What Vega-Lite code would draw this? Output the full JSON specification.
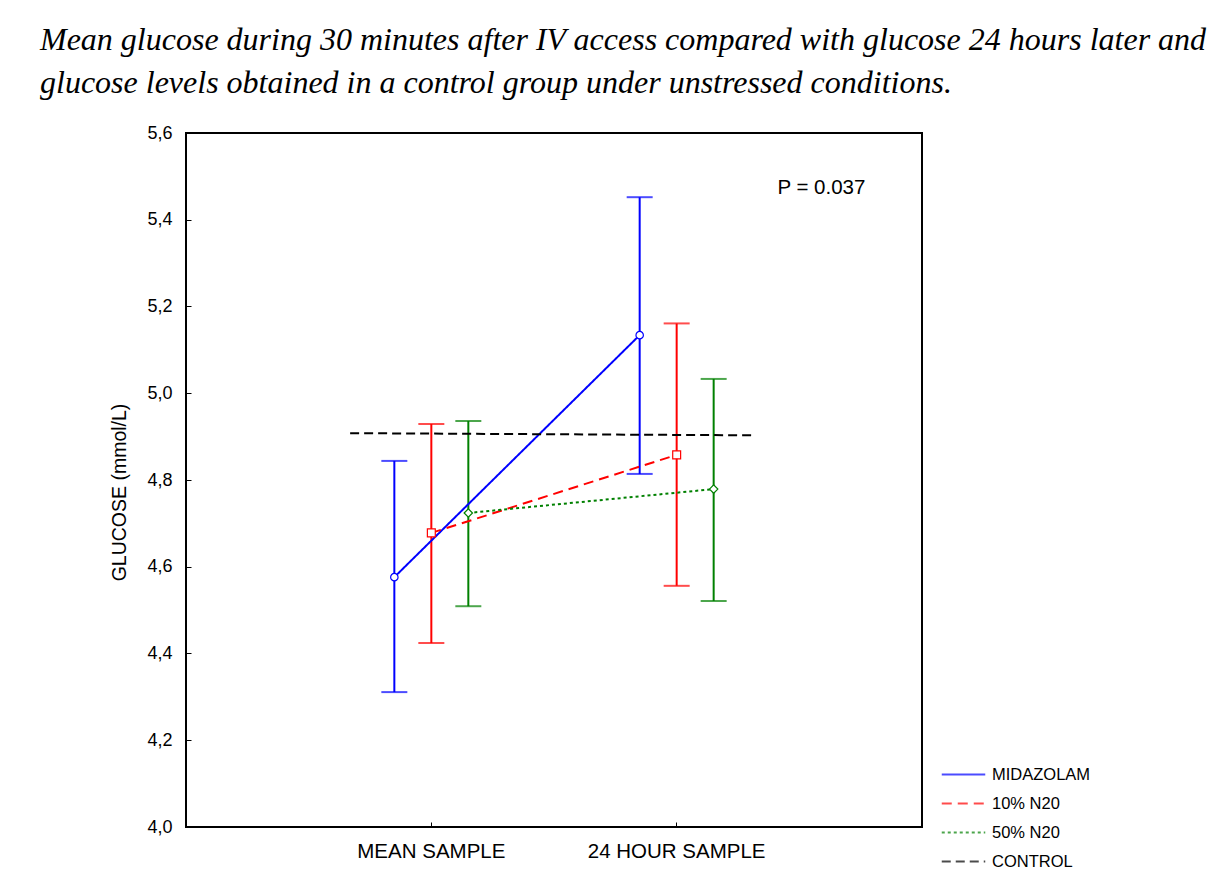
{
  "$schema": "https://vega.github.io/schema/vega-lite/v6.json",
  "width": 736,
  "height": 694,
  "autosize": {"type": "none"},
  "padding": {"left": 186, "top": 133, "right": 295, "bottom": 66},
  "background": "white",
  "title": {
    "text": ["Mean glucose during 30 minutes after IV access compared with glucose 24 hours later and", "glucose levels obtained in a control group under unstressed conditions."],
    "anchor": "start",
    "frame": "group",
    "dx": -146,
    "offset": 24,
    "font": "Liberation Serif",
    "fontStyle": "italic",
    "fontWeight": "normal",
    "fontSize": 32,
    "lineHeight": 43,
    "color": "black"
  },
  "config": {
    "view": {"stroke": "black", "strokeWidth": 2},
    "axis": {"domain": false, "grid": false, "tickColor": "black", "labelColor": "black", "titleColor": "black", "labelFont": "Liberation Sans", "titleFont": "Liberation Sans", "titleFontWeight": "normal"},
    "legend": {"labelFont": "Liberation Sans", "labelFontSize": 16.5, "labelColor": "black"}
  },
  "datasets": {
    "groups": [
      {"group": "MIDAZOLAM", "sample": "MEAN SAMPLE", "mean": 4.576, "lo": 4.311, "hi": 4.844},
      {"group": "MIDAZOLAM", "sample": "24 HOUR SAMPLE", "mean": 5.134, "lo": 4.814, "hi": 5.452},
      {"group": "10% N20", "sample": "MEAN SAMPLE", "mean": 4.678, "lo": 4.424, "hi": 4.929},
      {"group": "10% N20", "sample": "24 HOUR SAMPLE", "mean": 4.858, "lo": 4.556, "hi": 5.161},
      {"group": "50% N20", "sample": "MEAN SAMPLE", "mean": 4.724, "lo": 4.509, "hi": 4.936},
      {"group": "50% N20", "sample": "24 HOUR SAMPLE", "mean": 4.779, "lo": 4.521, "hi": 5.033}
    ],
    "control": [
      {"group": "CONTROL", "pos": 0.669, "glucose": 4.908},
      {"group": "CONTROL", "pos": 2.32, "glucose": 4.903}
    ],
    "note": [
      {"label": "P = 0.037", "pos": 2.59, "glucose": 5.473}
    ]
  },
  "layer": [
    {
      "data": {"name": "groups"},
      "encoding": {
        "x": {"field": "sample", "type": "nominal", "sort": ["MEAN SAMPLE", "24 HOUR SAMPLE"],
              "scale": {"type": "band", "paddingInner": 0.5, "paddingOuter": 0.75},
              "axis": {"title": null, "labelAngle": 0, "labelFontSize": 20.5, "tickSize": -5, "labelPadding": 19, "ticks": true}},
        "xOffset": {"field": "group", "type": "nominal", "sort": ["MIDAZOLAM", "10% N20", "50% N20"],
                    "scale": {"type": "point", "padding": 0.658}},
        "color": {"field": "group", "type": "nominal",
                  "scale": {"domain": ["MIDAZOLAM", "10% N20", "50% N20", "CONTROL"], "range": ["#0000FF", "#FF0000", "#008000", "#000000"]},
                  "legend": {"title": null, "orient": "none", "legendX": 762, "legendY": 626, "symbolType": "M-1.5,0H1.5", "symbolSize": 841, "symbolStrokeWidth": 2, "rowPadding": 5, "labelOffset": 13}}
      },
      "layer": [
        {"mark": {"type": "rule", "strokeWidth": 2},
         "encoding": {"y": {"field": "lo", "type": "quantitative", "scale": {"domain": [4, 5.6]},
                            "axis": {"title": "GLUCOSE (mmol/L)", "titleFontSize": 19.5, "labelFontSize": 18, "values": [4, 4.2, 4.4, 4.6, 4.8, 5, 5.2, 5.4, 5.6], "labelExpr": "replace(format(datum.value, '.1f'), '.', ',')", "tickSize": -5, "labelPadding": 19, "titlePadding": 17, "titleY": 359}},
                      "y2": {"field": "hi"}}},
        {"mark": {"type": "tick", "thickness": 2, "size": 26},
         "encoding": {"y": {"field": "hi", "type": "quantitative"}}},
        {"mark": {"type": "tick", "thickness": 2, "size": 26},
         "encoding": {"y": {"field": "lo", "type": "quantitative"}}},
        {"mark": {"type": "line", "strokeWidth": 2},
         "encoding": {"y": {"field": "mean", "type": "quantitative"},
                      "strokeDash": {"field": "group", "type": "nominal",
                                     "scale": {"domain": ["MIDAZOLAM", "10% N20", "50% N20", "CONTROL"], "range": [[1, 0], [10, 6], [3, 3], [9, 5]]}}}},
        {"mark": {"type": "point", "filled": true, "fill": "white", "strokeWidth": 1.2, "opacity": 1},
         "encoding": {"y": {"field": "mean", "type": "quantitative"},
                      "stroke": {"field": "group", "type": "nominal", "legend": null,
                                 "scale": {"domain": ["MIDAZOLAM", "10% N20", "50% N20", "CONTROL"], "range": ["#0000FF", "#FF0000", "#008000", "#000000"]}},
                      "shape": {"field": "group", "type": "nominal", "legend": null,
                                "scale": {"domain": ["MIDAZOLAM", "10% N20", "50% N20"], "range": ["circle", "square", "diamond"]}},
                      "size": {"field": "group", "type": "nominal", "legend": null,
                               "scale": {"domain": ["MIDAZOLAM", "10% N20", "50% N20"], "range": [55, 70, 45]}}}}
      ]
    },
    {
      "data": {"name": "control"},
      "mark": {"type": "line", "strokeWidth": 2},
      "encoding": {
        "x": {"field": "pos", "type": "quantitative", "scale": {"domain": [0, 3]}, "axis": null},
        "y": {"field": "glucose", "type": "quantitative"},
        "color": {"field": "group", "type": "nominal"},
        "strokeDash": {"field": "group", "type": "nominal"}
      }
    },
    {
      "data": {"name": "note"},
      "mark": {"type": "text", "font": "Liberation Sans", "fontSize": 20.5, "color": "black", "align": "center", "baseline": "middle"},
      "encoding": {
        "x": {"field": "pos", "type": "quantitative", "scale": {"domain": [0, 3]}, "axis": null},
        "y": {"field": "glucose", "type": "quantitative"},
        "text": {"field": "label"}
      }
    }
  ],
  "resolve": {"scale": {"x": "independent"}, "axis": {"x": "independent"}}
}
